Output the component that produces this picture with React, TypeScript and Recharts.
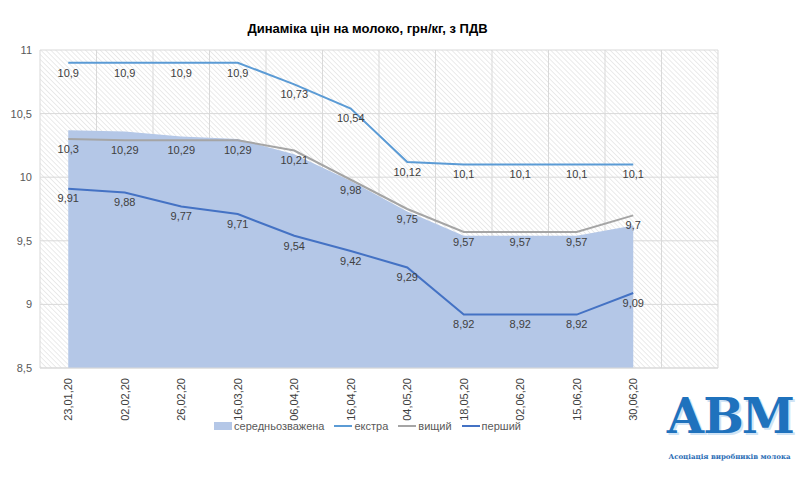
import {
  ComposedChart,
  Area,
  Line,
  XAxis,
  YAxis,
  CartesianGrid,
  Legend,
  LabelList,
} from "recharts";

// Dates of price observations (the last slot is left empty, as in the source)
const dates = [
  "23.01.20",
  "02.02.20",
  "26.02.20",
  "16.03.20",
  "06.04.20",
  "16.04.20",
  "04.05.20",
  "18.05.20",
  "02.06.20",
  "15.06.20",
  "30.06.20",
  "",
];

const avgPrice = [10.37, 10.36, 10.32, 10.3, 10.18, 9.97, 9.73, 9.54, 9.54, 9.54, 9.62];
const extraPrice = [10.9, 10.9, 10.9, 10.9, 10.73, 10.54, 10.12, 10.1, 10.1, 10.1, 10.1];
const higherPrice = [10.3, 10.29, 10.29, 10.29, 10.21, 9.98, 9.75, 9.57, 9.57, 9.57, 9.7];
const firstPrice = [9.91, 9.88, 9.77, 9.71, 9.54, 9.42, 9.29, 8.92, 8.92, 8.92, 9.09];

const yTicks = [8.5, 9, 9.5, 10, 10.5, 11];

const series = [
  { key: "avg", name: "середньозважена", color: "#B4C7E7", kind: "area" },
  { key: "extra", name: "екстра", color: "#5B9BD5", kind: "line" },
  { key: "higher", name: "вищий", color: "#A5A5A5", kind: "line" },
  { key: "first", name: "перший", color: "#4472C4", kind: "line" },
];

const data = dates.map((d, i) => ({
  date: d,
  avg: avgPrice[i] ?? null,
  extra: extraPrice[i] ?? null,
  higher: higherPrice[i] ?? null,
  first: firstPrice[i] ?? null,
}));

const FONT = "'Liberation Sans', Arial, sans-serif";
const comma = (v: any) => (v == null ? "" : String(v).replace(".", ","));

const DateTick = ({ x, y, payload }: any) => (
  <text
    x={x}
    y={y + 2}
    dy={4}
    transform={`rotate(-90 ${x} ${y + 2})`}
    textAnchor="end"
    fontSize={11}
    fontFamily={FONT}
    fill="#404040"
  >
    {String(payload.value).replace(/\./g, ",")}
  </text>
);

const LegendContent = () => (
  <div
    style={{
      display: "flex",
      justifyContent: "center",
      alignItems: "center",
      gap: 10,
      fontSize: 11,
      fontFamily: FONT,
      color: "#595959",
    }}
  >
    {series.map((s) => (
      <div key={s.key} style={{ display: "flex", alignItems: "center", gap: 2 }}>
        {s.kind === "area" ? (
          <span style={{ width: 18, height: 8, background: s.color, display: "inline-block" }} />
        ) : (
          <span style={{ width: 18, height: 2, background: s.color, display: "inline-block" }} />
        )}
        <span>{s.name}</span>
      </div>
    ))}
  </div>
);

export default function App() {
  return (
    <div
      style={{
        position: "absolute",
        left: 0,
        top: 0,
        width: 800,
        height: 478,
        background: "#fff",
      }}
    >
      <div
        style={{
          position: "absolute",
          top: 21,
          left: 0,
          width: 735,
          textAlign: "center",
          fontFamily: FONT,
          fontWeight: "bold",
          fontSize: 13,
          color: "#000",
        }}
      >
        Динаміка цін на молоко, грн/кг, з ПДВ
      </div>

      <ComposedChart
        width={800}
        height={478}
        data={data}
        margin={{ top: 50, right: 82, left: 0, bottom: 50 }}
      >
        <defs>
          <pattern
            id="hatch"
            width="3.5"
            height="3.5"
            patternUnits="userSpaceOnUse"
            patternTransform="rotate(-45)"
          >
            <line x1="0" y1="0" x2="0" y2="3.5" stroke="#d6d6d6" strokeWidth="1" />
          </pattern>
        </defs>
        <CartesianGrid
          fill="url(#hatch)"
          fillOpacity={1}
          stroke="#d9d9d9"
          verticalCoordinatesGenerator={({ offset }: any) =>
            dates.map((_, i) => offset.left + (i * offset.width) / dates.length).concat(offset.left + offset.width)
          }
        />
        <XAxis
          dataKey="date"
          scale="band"
          interval={0}
          height={60}
          tick={<DateTick />}
          tickLine={false}
          axisLine={{ stroke: "#d9d9d9" }}
        />
        <YAxis
          domain={[8.5, 11]}
          ticks={yTicks}
          width={40}
          tickFormatter={comma}
          tick={{ fontSize: 11, fill: "#595959", fontFamily: FONT }}
          tickLine={false}
          axisLine={false}
        />
        <Legend
          layout="horizontal"
          verticalAlign="middle"
          align="center"
          content={<LegendContent />}
          wrapperStyle={{ top: 420, left: 0, width: 735 }}
        />
        <Area
          dataKey="avg"
          name="середньозважена"
          type="linear"
          fill="#B4C7E7"
          fillOpacity={1}
          stroke="none"
          isAnimationActive={false}
        />
        {series
          .filter((s) => s.kind === "line")
          .map((s) => (
            <Line
              key={s.key}
              dataKey={s.key}
              name={s.name}
              type="linear"
              stroke={s.color}
              strokeWidth={2}
              dot={false}
              isAnimationActive={false}
            >
              <LabelList
                dataKey={s.key}
                position="bottom"
                offset={6}
                formatter={comma}
                style={{ fontSize: 11, fill: "#404040", fontFamily: FONT }}
              />
            </Line>
          ))}
      </ComposedChart>

      <div
        style={{
          position: "absolute",
          left: 662,
          top: 388,
          width: 135,
          textAlign: "center",
          fontFamily: "'DejaVu Serif', 'Liberation Serif', serif",
        }}
      >
        <div
          style={{
            fontSize: 48,
            fontWeight: "bold",
            color: "#1f72bd",
            lineHeight: "56px",
            letterSpacing: -2,
            textShadow: "2px 2px 0 #cfe3f5",
          }}
        >
          АВМ
        </div>
        <div
          style={{
            fontSize: 7,
            fontWeight: "bold",
            color: "#2a6db5",
            marginTop: 8,
            whiteSpace: "nowrap",
          }}
        >
          Асоціація виробників молока
        </div>
      </div>
    </div>
  );
}
